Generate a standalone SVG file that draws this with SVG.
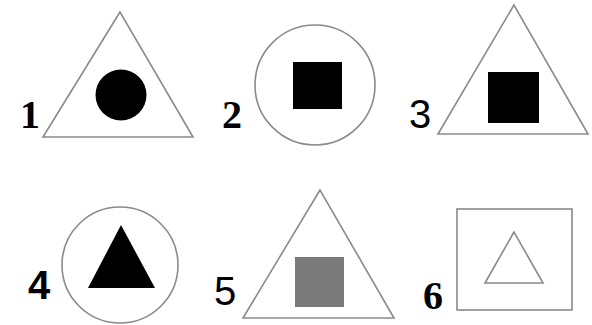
<svg xmlns="http://www.w3.org/2000/svg" width="592" height="325" viewBox="0 0 592 325">
<style>
.o{fill:#fff;stroke:#8a8a8a;stroke-width:1.6}
.f{fill:#000}
.g{fill:#7a7a7a}
.l{font-size:40px;fill:#000}
.sf{font-family:"Liberation Serif",serif;font-weight:bold}
.ss{font-family:"Liberation Sans",sans-serif}
.sb{font-family:"Liberation Sans",sans-serif;font-weight:bold}
</style>
<rect width="592" height="325" fill="#fff"/>
<g id="n1">
<polygon class="o" points="120,12 43,137 193,137"/>
<circle class="f" cx="121" cy="95" r="25.5"/>
<text class="l sf" x="20" y="128">1</text>
</g>
<g id="n2">
<circle class="o" cx="315" cy="85" r="60"/>
<rect class="f" x="293" y="62" width="49" height="47"/>
<text class="l sf" x="222" y="128">2</text>
</g>
<g id="n3">
<polygon class="o" points="514,5 438,134 588,134"/>
<rect class="f" x="488" y="72" width="51" height="51"/>
<text class="l ss" x="409" y="128">3</text>
</g>
<g id="n4">
<circle class="o" cx="120" cy="265" r="58"/>
<polygon class="f" points="121,225 88,288 155,288"/>
<text class="l sb" x="28" y="299">4</text>
</g>
<g id="n5">
<polygon class="o" points="320,190 243,318 394,318"/>
<rect class="g" x="295" y="257" width="49" height="50"/>
<text class="l ss" x="214" y="305">5</text>
</g>
<g id="n6">
<rect class="o" x="457" y="209" width="115" height="101"/>
<polygon class="o" points="514,232 485,283 543,283"/>
<text class="l sf" x="423" y="309">6</text>
</g>
<g id="connectors"/>
</svg>
